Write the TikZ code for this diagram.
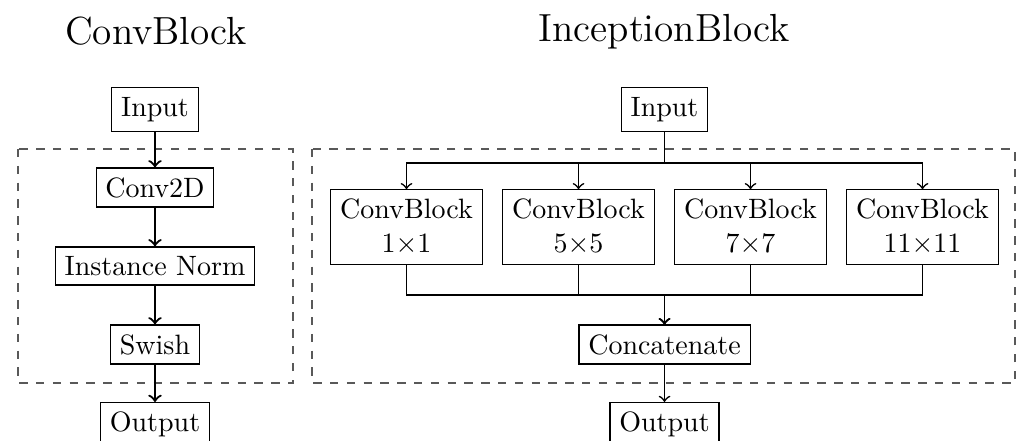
\documentclass[tikz,border=0pt]{standalone}
\usetikzlibrary{positioning}
\tikzset{
  blk/.style={draw, inner sep=0.3333em},
  grp/.style={draw=black!65, dashed},
  ttl/.style={font=\fontsize{14}{17}\selectfont, anchor=base},
  flow/.style={->, thick},
  wire/.style={->, semithick},
}
\begin{document}
\begin{tikzpicture}[x=0.3571pt, y=-0.3571pt]
  \useasboundingbox (0,0) rectangle (1020,441);

  % ---- ConvBlock ----
  \node[ttl] (t1) at (156,45) {ConvBlock};
  \draw[grp] (18,149) rectangle (293,383);
  \node[blk] (in1)   at (155,109.5) {Input};
  \node[blk] (conv)  at (155,187.5) {Conv2D};
  \node[blk] (norm)  at (155,266)   {Instance Norm};
  \node[blk] (swish) at (155,344.5) {Swish};
  \node[blk, anchor=north] (out1) at (155,402) {Output};
  \draw[flow] (in1) -- (conv);
  \draw[flow] (conv) -- (norm);
  \draw[flow] (norm) -- (swish);
  \draw[flow] (swish) -- (out1);

  % ---- InceptionBlock ----
  \node[ttl] (t2) at (664,42) {InceptionBlock};
  \draw[grp] (312,149) rectangle (1015,383);
  \node[blk] (in2) at (664.5,109.5) {Input};
  \node[blk, align=center] (cb1) at (406.5,227) {ConvBlock\\$1{\times}1$};
  \node[blk, align=center] (cb2) at (578.5,227) {ConvBlock\\$5{\times}5$};
  \node[blk, align=center] (cb3) at (750.5,227) {ConvBlock\\$7{\times}7$};
  \node[blk, align=center] (cb4) at (922.5,227) {ConvBlock\\$11{\times}11$};
  \node[blk] (cat) at (664.5,344.5) {Concatenate};
  \node[blk, anchor=north] (out2) at (664.5,402) {Output};
  \coordinate (split) at (664.5,163);
  \coordinate (merge) at (664.5,295);
  \foreach \b in {cb1,cb2,cb3,cb4}{
    \draw[wire] (in2) -- (split) -| (\b);
    \draw[wire] (\b) |- (merge) -- (cat);
  }
  \draw[wire] (cat) -- (out2);
\end{tikzpicture}
\end{document}
